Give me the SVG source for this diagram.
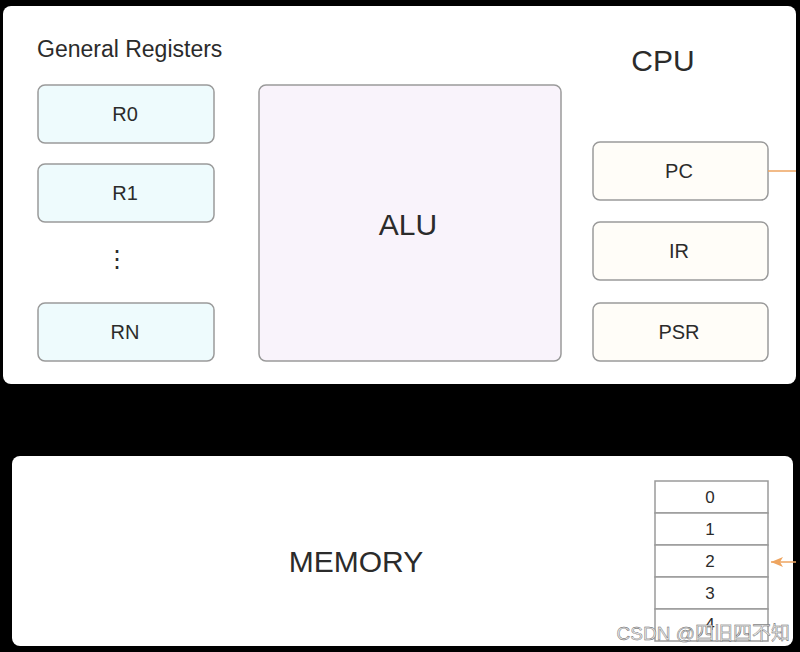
<svg xmlns="http://www.w3.org/2000/svg" width="800" height="652" viewBox="0 0 800 652">
<defs>
<style>
.panel{fill:#ffffff;}
.reg{fill:#eefbfd;stroke:#9a9a9a;stroke-width:1.5;}
.alu{fill:#f9f3fb;stroke:#9a9a9a;stroke-width:1.5;}
.ctl{fill:#fffdf8;stroke:#9a9a9a;stroke-width:1.5;}
.cell{fill:#ffffff;stroke:#9a9a9a;stroke-width:1.5;}
.t{font-family:"Liberation Sans",Arial,sans-serif;fill:#2b2b2b;text-anchor:middle;}
.s{font-size:20px;}
.l{font-size:30px;}
.c{font-size:17px;}
.conn{stroke:#eea560;stroke-width:1.5;fill:none;}
</style>
<marker id="ah" markerWidth="12" markerHeight="10" refX="12" refY="5" orient="auto" markerUnits="userSpaceOnUse">
<path d="M0,0 L12,5 L0,10 L3,5 Z" fill="#eea560"/>
</marker>
</defs>
<rect width="800" height="652" fill="#000000"/>
<g id="cpu">
<rect class="panel" x="3" y="6" width="793" height="378" rx="8"/>
<text class="t" x="37" y="57" style="text-anchor:start;font-size:23px">General Registers</text>
<text class="t l" x="663" y="71">CPU</text>
</g>
<g id="r0"><rect class="reg" x="38" y="85" width="176" height="58" rx="7"/><text class="t s" x="125" y="121">R0</text></g>
<g id="r1"><rect class="reg" x="38" y="164" width="176" height="58" rx="7"/><text class="t s" x="125" y="200">R1</text></g>
<g id="dots"><text class="t" x="117" y="267" style="font-size:24px">⋮</text></g>
<g id="rn"><rect class="reg" x="38" y="303" width="176" height="58" rx="7"/><text class="t s" x="125" y="339">RN</text></g>
<g id="alu"><rect class="alu" x="259" y="85" width="302" height="276" rx="7"/><text class="t l" x="408" y="235">ALU</text></g>
<g id="pc"><rect class="ctl" x="593" y="142" width="175" height="58" rx="7"/><text class="t s" x="679" y="178">PC</text></g>
<g id="ir"><rect class="ctl" x="593" y="222" width="175" height="58" rx="7"/><text class="t s" x="679" y="258">IR</text></g>
<g id="psr"><rect class="ctl" x="593" y="303" width="175" height="58" rx="7"/><text class="t s" x="679" y="339">PSR</text></g>
<g id="memory">
<rect class="panel" x="12" y="456" width="781" height="190" rx="8"/>
<text class="t l" x="356" y="572">MEMORY</text>
</g>
<g id="cells">
<rect class="cell" x="655" y="481" width="113" height="32"/><text class="t c" x="710" y="503">0</text>
<rect class="cell" x="655" y="513" width="113" height="32"/><text class="t c" x="710" y="535">1</text>
<rect class="cell" x="655" y="545" width="113" height="32"/><text class="t c" x="710" y="567">2</text>
<rect class="cell" x="655" y="577" width="113" height="32"/><text class="t c" x="710" y="599">3</text>
<rect class="cell" x="655" y="609" width="113" height="32"/><text class="t c" x="710" y="630">4</text>
</g>
<g id="connectors">
<line class="conn" x1="768" y1="171" x2="796" y2="171"/>
<line class="conn" x1="796" y1="562" x2="771" y2="562" marker-end="url(#ah)"/>
</g>
<text x="790" y="640" style="font-family:'Liberation Sans','Noto Sans CJK SC',sans-serif;font-size:19px;fill:#e8e8e8;text-anchor:end;stroke:#555;stroke-width:0.4">CSDN @四旧四不知</text>
</svg>
